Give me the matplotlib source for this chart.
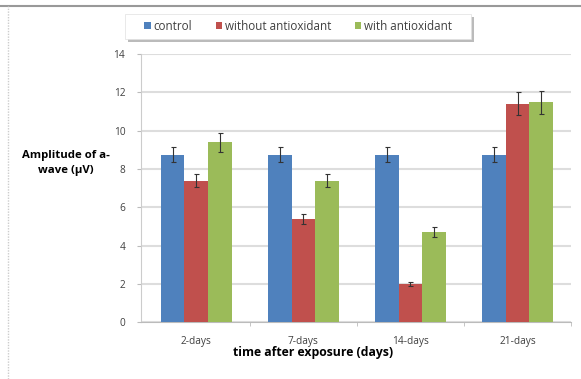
import matplotlib.pyplot as plt
import numpy as np
from matplotlib.lines import Line2D
from matplotlib.patches import Rectangle

categories = ["2-days", "7-days", "14-days", "21-days"]
control = [8.75, 8.75, 8.75, 8.75]
control_err = [0.4, 0.4, 0.4, 0.4]
without_ao = [7.4, 5.4, 2.0, 11.4]
without_err = [0.35, 0.25, 0.1, 0.6]
with_ao = [9.4, 7.4, 4.7, 11.5]
with_err = [0.5, 0.35, 0.25, 0.6]
yticks = [0, 2, 4, 6, 8, 10, 12, 14]

plt.rcParams['font.family'] = ['Open Sans', 'DejaVu Sans']

fig = plt.figure(figsize=(5.81, 3.79), dpi=100)
ax = fig.add_axes([0.242, 0.150, 0.741, 0.707])

x = np.arange(len(categories))
w = 0.221
series = [
    ("control", control, control_err, "#4F81BD"),
    ("without antioxidant", without_ao, without_err, "#C0504D"),
    ("with antioxidant", with_ao, with_err, "#9BBB59"),
]
handles = []
for i, (name, vals, errs, col) in enumerate(series):
    b = ax.bar(x + (i - 1) * w, vals, w, color=col, label=name, zorder=3,
               yerr=errs, error_kw=dict(ecolor="#333333", elinewidth=0.8, capsize=1.8, capthick=0.8))
    handles.append(b)

ax.set_xlim(-0.52, 3.5)
ax.set_ylim(0, 14)
ax.set_yticks(yticks)
ax.set_xticks(x)
ax.set_xticklabels(categories)
ax.set_xticks([0.5, 1.5, 2.5, 3.5], minor=True)
ax.tick_params(axis='x', which='major', length=0, labelsize=7.3, colors="#404040", pad=10)
ax.tick_params(axis='x', which='minor', length=3, color="#BBBBBB")
ax.tick_params(axis='y', length=3, color="#BBBBBB", labelsize=7.3, labelcolor="#404040", pad=8)
ax.yaxis.grid(True, color="#DDDDDD", linewidth=1.5, zorder=0)
for s in ["top", "right"]:
    ax.spines[s].set_visible(False)
ax.spines["left"].set_color("#CCCCCC")
ax.spines["bottom"].set_color("#BBBBBB")

fig.text(0.539, 0.071, "time after exposure (days)", fontsize=8.8, fontweight="bold",
         ha="center", va="center")
fig.text(0.113, 0.570, "Amplitude of a-\nwave (\u00b5V)", fontsize=8.2, fontweight="bold",
         ha="center", va="center", linespacing=1.45)

# legend box with shadow at the top
shadow = Rectangle((0.220, 0.890), 0.595, 0.065, transform=fig.transFigure,
                   facecolor="#BBBBBB", edgecolor="none", zorder=1)
box = Rectangle((0.215, 0.897), 0.595, 0.065, transform=fig.transFigure,
                facecolor="white", edgecolor="#E0E0E0", linewidth=0.5, zorder=2)
fig.patches.extend([shadow, box])
leg = fig.legend(handles=handles, loc="center", bbox_to_anchor=(0.513, 0.930), ncol=3,
                 frameon=False, fontsize=8.4, handlelength=0.55, handleheight=0.55,
                 handletextpad=0.25, columnspacing=2.0, labelcolor="#404040")
leg.set_zorder(5)

# page border lines
fig.add_artist(Line2D([0.0, 1.0], [0.985, 0.985], color="#999999", linewidth=1.5,
                      transform=fig.transFigure))
fig.add_artist(Line2D([0.013, 0.013], [0.0, 0.983], color="#CCCCCC", linewidth=1,
                      linestyle=(0, (1, 1)), transform=fig.transFigure))

fig.savefig("out.png", dpi=100)
